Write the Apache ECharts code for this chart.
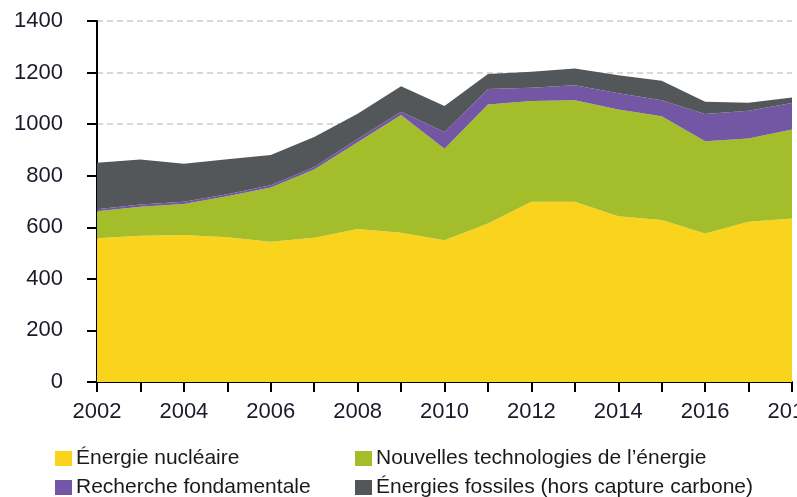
<!DOCTYPE html>
<html>
<head>
<meta charset="utf-8">
<script src="https://cdn.jsdelivr.net/npm/echarts@6/dist/echarts.min.js"></script>
<style>
  html, body { margin: 0; padding: 0; background: #fff; }
  #chart { width: 797px; height: 497px; }
</style>
</head>
<body>
<div id="chart"></div>
<script>
const years = ['2002', '2003', '2004', '2005', '2006', '2007', '2008', '2009', '2010',
  '2011', '2012', '2013', '2014', '2015', '2016', '2017', '2018']
const nucleaire = [557, 567, 570, 561, 544, 559, 593, 579, 550, 615, 699, 699, 643, 628, 576, 621, 634]
const nouvelles = [105, 113, 120, 159, 210, 265, 337, 456, 355, 461, 391, 394, 414, 403, 358, 323, 345]
const recherche = [8, 8, 9, 8, 9, 10, 12, 13, 65, 60, 51, 58, 63, 62, 105, 108, 103]
const fossiles = [180, 175, 147, 136, 117, 116, 98, 99, 100, 58, 62, 65, 70, 75, 48, 31, 21]

const names = ['Énergie nucléaire', 'Nouvelles technologies de l’énergie',
  'Recherche fondamentale', 'Énergies fossiles (hors capture carbone)']
const colors = ['#f9d31c', '#a3be2a', '#7357a4', '#535759']

const font = 'Liberation Sans, Arial, sans-serif'

function area(name, data, color) {
  return {
    name: name,
    type: 'line',
    stack: 'total',
    data: data,
    symbol: 'none',
    lineStyle: { width: 0 },
    areaStyle: { color: color, opacity: 1 },
    itemStyle: { color: color }
  }
}

// one legend per entry so the two columns line up like the original
function legendAt(name, left, top) {
  return {
    data: [name],
    left: left,
    top: top,
    padding: 0,
    itemWidth: 17,
    itemHeight: 15,
    itemGap: 5,
    icon: 'rect',
    selectedMode: false,
    textStyle: { fontFamily: font, fontSize: 21, color: '#1a1a1a', padding: [0, 0, 0, -1] }
  }
}

const option = {
  animation: false,
  grid: { left: 97, right: 5, top: 21, bottom: 115, outerBoundsMode: 'none' },
  legend: [
    legendAt(names[0], 55, 448),
    legendAt(names[1], 355, 448),
    legendAt(names[2], 55, 477),
    legendAt(names[3], 355, 477)
  ],
  xAxis: {
    type: 'category',
    boundaryGap: false,
    data: years,
    axisLine: { lineStyle: { color: '#000', width: 2 } },
    axisTick: { interval: 0, length: 10, lineStyle: { color: '#000', width: 2 } },
    axisLabel: { interval: 1, margin: 19, fontFamily: font, fontSize: 22, color: '#1a1a2a', hideOverlap: false },
    splitLine: { show: false }
  },
  yAxis: {
    type: 'value',
    min: 0,
    max: 1400,
    interval: 200,
    axisLine: { show: true, lineStyle: { color: '#000', width: 2 } },
    axisTick: { show: true, length: 10, lineStyle: { color: '#000', width: 2 } },
    axisLabel: { margin: 34, fontFamily: font, fontSize: 22, color: '#1a1a2a', formatter: v => String(v) },
    splitLine: { lineStyle: { color: '#cccccc', width: 1.5, type: [6, 4] } }
  },
  series: [
    area(names[0], nucleaire, colors[0]),
    area(names[1], nouvelles, colors[1]),
    area(names[2], recherche, colors[2]),
    area(names[3], fossiles, colors[3])
  ]
}

const chart = echarts.init(document.getElementById('chart'))
chart.setOption(option)
</script>
</body>
</html>
